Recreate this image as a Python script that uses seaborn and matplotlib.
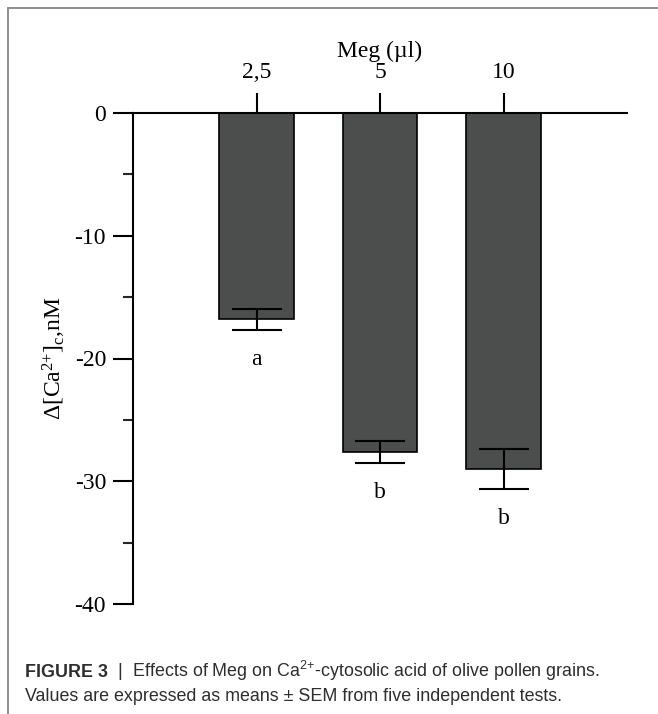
import matplotlib
matplotlib.use("Agg")
import matplotlib.pyplot as plt
import seaborn as sns
import numpy as np
import pandas as pd
from matplotlib.lines import Line2D
from matplotlib.ticker import FixedLocator

# ---- data ----
doses = ["2,5", "5", "10"]
means = [-16.8, -27.6, -29.0]
sems = [0.85, 0.9, 1.6]
letters = ["a", "b", "b"]
yticks = [0, -10, -20, -30, -40]
yminor = [-5, -15, -25, -35]
xlabel = "Meg (\u00b5l)"
ylabel = r"$\Delta$[Ca$^{2{+}}$]$_{\mathregular{c}}$,nM"
caption_bold = "FIGURE 3"
caption_rest1 = "  |  Effects of Meg on Ca$^{2{+}}$-cytosolic acid of olive pollen grains."
caption_line2 = "Values are expressed as means \u00b1 SEM from five independent tests."

sns.set_style("ticks")
plt.rcParams["font.family"] = ["Liberation Serif", "DejaVu Serif"]
plt.rcParams["mathtext.default"] = "regular"
plt.rcParams["mathtext.fontset"] = "custom"
plt.rcParams["mathtext.rm"] = "Liberation Serif"
plt.rcParams["axes.unicode_minus"] = False

W, H = 658, 714
fig = plt.figure(figsize=(W / 100, H / 100), dpi=100)
fig.patch.set_facecolor("white")

L, R, T, B = 133, 627, 113, 604
ax = fig.add_axes([L / W, 1 - B / H, (R - L) / W, (B - T) / H])
ax.set_facecolor("white")

FS = 17

df = pd.DataFrame({"dose": doses, "mean": means})
sns.barplot(data=df, x="dose", y="mean", order=doses, color="#4c4e4d",
            saturation=1, width=0.6, edgecolor="black", linewidth=1.2,
            errorbar=None, ax=ax, zorder=2)

xpos = np.arange(len(doses))
ax.errorbar(xpos, means, yerr=sems, fmt="none", ecolor="black",
            elinewidth=1.5, capsize=18, capthick=1.5, zorder=3)

for x, m, s, lab in zip(xpos, means, sems, letters):
    ax.annotate(lab, xy=(x, m - s), xytext=(0, -30), textcoords="offset pixels",
                ha="center", va="center", fontsize=FS, color="black")

ax.set_xlim(-1.0, 3.0)
ax.set_ylim(-40, 0)

ax.xaxis.tick_top()
ax.xaxis.set_label_position("top")
ax.set_xlabel(xlabel, fontsize=FS, labelpad=4, color="black")
ax.set_ylabel(ylabel, fontsize=FS, labelpad=5, color="black")

ax.set_yticks(yticks)
ax.set_yticklabels([str(v) for v in yticks])
ax.yaxis.set_minor_locator(FixedLocator(yminor))

for s in ["right", "bottom"]:
    ax.spines[s].set_visible(False)
for s in ["left", "top"]:
    ax.spines[s].set_linewidth(1.5)
    ax.spines[s].set_color("black")
    ax.spines[s].set_zorder(4)

ax.tick_params(axis="y", which="major", direction="out", length=14.4, width=1.5,
               pad=5, labelsize=FS, colors="black")
ax.tick_params(axis="y", which="minor", direction="out", length=7.2, width=1.5)
ax.tick_params(axis="x", which="major", direction="out", length=14.4, width=1.5,
               pad=7, labelsize=FS, colors="black", top=True, bottom=False)
ax.grid(False)

# ---- caption frame ----
fc = "#8e8e8e"
fig.add_artist(Line2D([7.5 / W, 7.5 / W], [0, 1 - 8 / H], transform=fig.transFigure,
                      color=fc, linewidth=1.4))
fig.add_artist(Line2D([7.5 / W, 1], [1 - 8 / H, 1 - 8 / H], transform=fig.transFigure,
                      color=fc, linewidth=1.4))

# ---- caption ----
cap_kw = dict(family=["Liberation Sans", "DejaVu Sans"], fontsize=12.9, color="#2e2e2e",
              va="baseline", ha="left")
t1 = fig.text(25 / W, 1 - 677 / H, caption_bold, fontweight="bold", **cap_kw)
fig.canvas.draw()
ext = t1.get_window_extent(renderer=fig.canvas.get_renderer())
fig.text(ext.x1 / W, 1 - 677 / H, caption_rest1, **cap_kw)
fig.text(25 / W, 1 - 701 / H, caption_line2, **cap_kw)

fig.savefig("out.png", dpi=100, facecolor="white")
